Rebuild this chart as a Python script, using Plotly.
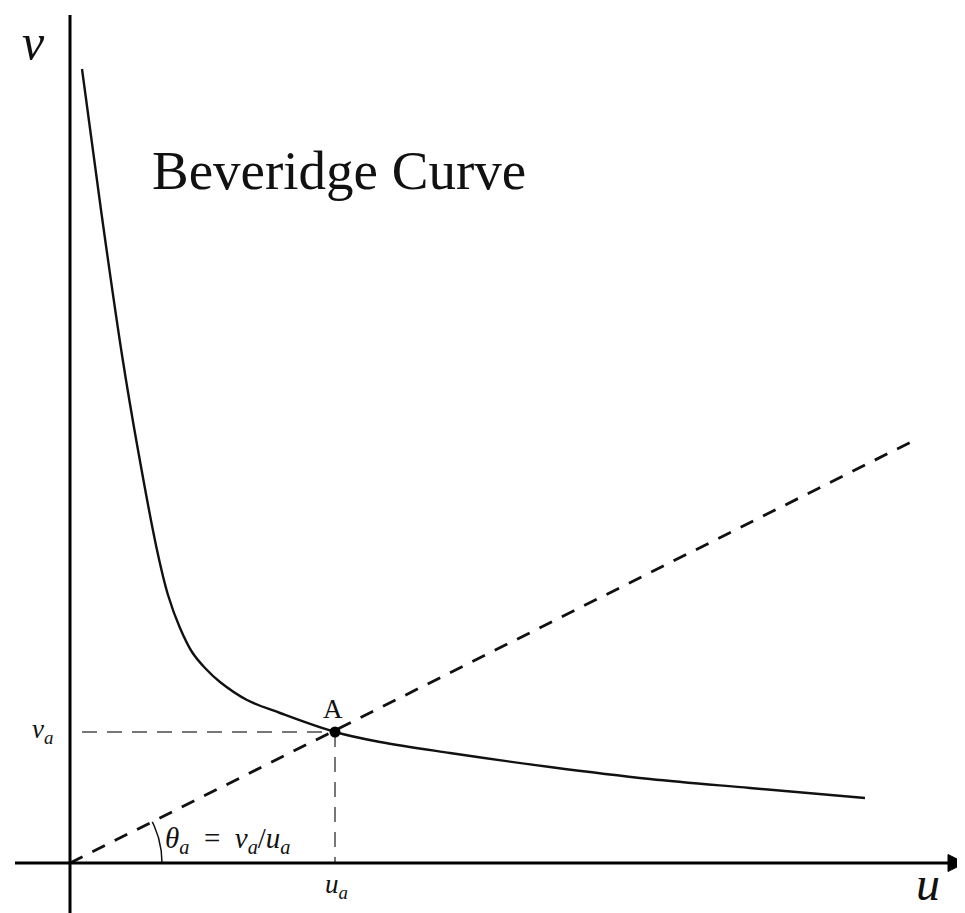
import numpy as np
import plotly.graph_objects as go

# Beveridge curve (u, v)
curve_u = [0.12, 0.31, 0.52, 0.68, 0.87, 0.98, 1.10, 1.22, 1.35, 1.50, 1.77, 2.10, 2.65, 3.10, 3.80, 4.80, 5.80, 6.80, 7.95]
curve_v = [7.94, 6.53, 5.08, 4.13, 3.13, 2.68, 2.35, 2.11, 1.95, 1.81, 1.63, 1.50, 1.31, 1.21, 1.10, 0.96, 0.84, 0.75, 0.65]

# point A
u_a = 2.65
v_a = 1.31

# ray from origin through A
ray_u = [0.0, 8.45]
ray_v = [0.0, 4.23]

X_RANGE = [-0.62, 8.95]
Y_RANGE = [-0.50, 8.55]

fig = go.Figure()

# Beveridge curve (smooth)
fig.add_trace(go.Scatter(x=curve_u, y=curve_v, mode="lines",
                         line=dict(color="#111", width=2.4, shape="spline", smoothing=1.0),
                         hoverinfo="skip"))
# ray
fig.add_trace(go.Scatter(x=ray_u, y=ray_v, mode="lines",
                         line=dict(color="#111", width=2.8, dash="14px,11px"),
                         hoverinfo="skip"))
# guide lines
fig.add_trace(go.Scatter(x=[0.12, u_a], y=[v_a, v_a], mode="lines",
                         line=dict(color="#777", width=2, dash="15px,10px"), hoverinfo="skip"))
fig.add_trace(go.Scatter(x=[u_a, u_a], y=[v_a, 0], mode="lines",
                         line=dict(color="#777", width=2, dash="15px,10px"), hoverinfo="skip"))
# angle arc
r = 0.92
th = np.linspace(0, np.arctan2(ray_v[1], ray_u[1]), 30)
fig.add_trace(go.Scatter(x=r * np.cos(th), y=r * np.sin(th), mode="lines",
                         line=dict(color="#111", width=1.5), hoverinfo="skip"))
# point A
fig.add_trace(go.Scatter(x=[u_a], y=[v_a], mode="markers",
                         marker=dict(color="#000", size=11), hoverinfo="skip"))

# axes
fig.add_shape(type="line", x0=0, x1=0, y0=Y_RANGE[0], y1=8.48, line=dict(color="#000", width=3))
fig.add_shape(type="line", x0=-0.55, x1=8.82, y0=0, y1=0, line=dict(color="#000", width=3))
fig.add_shape(type="path", path="M 8.95 0 L 8.78 0.085 L 8.78 -0.085 Z",
              fillcolor="#000", line=dict(color="#000", width=1))

serif = "Liberation Serif, DejaVu Serif, serif"
ann = [
    dict(x=-0.37, y=8.21, text="<i>v</i>", font=dict(size=50, family=serif)),
    dict(x=8.58, y=-0.49, text="<i>u</i>", font=dict(size=48, family=serif), yanchor="bottom"),
    dict(x=2.66, y=-0.23, text="<i>u<sub>a</sub></i>", font=dict(size=27, family=serif)),
    dict(x=-0.28, y=1.32, text="<i>v<sub>a</sub></i>", font=dict(size=27, family=serif)),
    dict(x=2.63, y=1.54, text="A", font=dict(size=27, family=serif)),
    dict(x=0.93, y=0.23,
         text="<i>θ<sub>a</sub></i>&nbsp;&nbsp;=&nbsp;&nbsp;<i>v<sub>a</sub></i>/<i>u<sub>a</sub></i>",
         font=dict(size=29, family=serif), xanchor="left"),
    dict(x=0.80, y=6.93, text="Beveridge Curve", font=dict(size=55, family=serif), xanchor="left"),
]
for a in ann:
    a.setdefault("xanchor", "center")
    a.setdefault("yanchor", "middle")
    fig.add_annotation(showarrow=False, font_color="#111", **a)

fig.update_layout(
    width=957, height=905,
    margin=dict(l=0, r=0, t=0, b=0),
    paper_bgcolor="white", plot_bgcolor="white",
    showlegend=False,
    xaxis=dict(range=X_RANGE, visible=False, fixedrange=True),
    yaxis=dict(range=Y_RANGE, visible=False, fixedrange=True),
)

fig.write_html("out.html", config={"displayModeBar": False})
